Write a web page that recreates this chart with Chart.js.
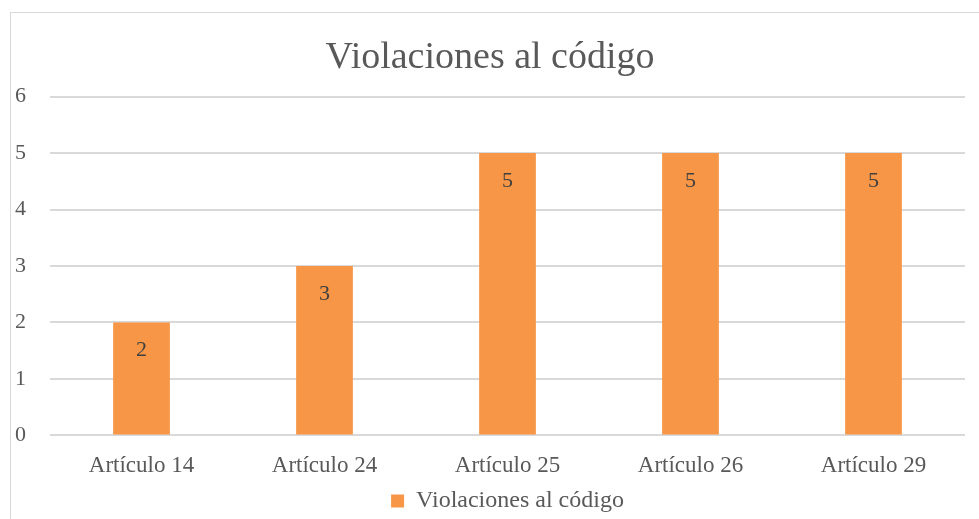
<!DOCTYPE html>
<html>
<head>
<meta charset="utf-8">
<script src="https://cdn.jsdelivr.net/npm/chart.js@4"></script>
<style>
  html, body { margin: 0; padding: 0; background: #fff; }
  #wrap { position: relative; width: 979px; height: 519px; overflow: hidden; }
  #frame { position: absolute; left: 10px; top: 12px; width: 1000px; height: 600px; border: 1px solid #d9d9d9; box-sizing: border-box; }
  #chart { position: absolute; left: 0; top: 0; }
</style>
</head>
<body>
<div id="wrap">
  <div id="frame"></div>
  <canvas id="chart" width="979" height="519"></canvas>
</div>
<script>
const categorias = ["Artículo 14", "Artículo 24", "Artículo 25", "Artículo 26", "Artículo 29"];
const violaciones = [2, 3, 5, 5, 5];
const serieNombre = "Violaciones al código";
const titulo = "Violaciones al código";

const FONT = "'Liberation Serif', 'DejaVu Serif', serif";

// etiqueta de valor dentro de la barra, cerca del tope
const etiquetasValor = {
  id: "etiquetasValor",
  afterDatasetsDraw(chart) {
    const ctx = chart.ctx;
    ctx.save();
    ctx.font = "22px " + FONT;
    ctx.fillStyle = "#404040";
    ctx.textAlign = "center";
    ctx.textBaseline = "middle";
    chart.getDatasetMeta(0).data.forEach((bar, i) => {
      ctx.fillText(String(violaciones[i]), bar.x, bar.y + 28);
    });
    ctx.restore();
  }
};

new Chart(document.getElementById("chart").getContext("2d"), {
  type: "bar",
  data: {
    labels: categorias,
    datasets: [{
      label: serieNombre,
      data: violaciones,
      backgroundColor: "#F79646",
      categoryPercentage: 0.62,
      barPercentage: 0.5
    }]
  },
  options: {
    responsive: false,
    animation: false,
    layout: { padding: { left: 15, right: 14, top: 0, bottom: -4 } },
    scales: {
      x: {
        grid: { display: false },
        border: { display: false },
        ticks: { color: "#595959", font: { family: FONT, size: 23 }, padding: 9 },
        // sin margen extra por las etiquetas de los extremos
        afterFit(scale) { scale.paddingLeft = 0; scale.paddingRight = 0; }
      },
      y: {
        min: 0,
        max: 6,
        ticks: { stepSize: 1, color: "#595959", font: { family: FONT, size: 22 }, padding: 24 },
        grid: { color: "#d9d9d9", lineWidth: 2, drawTicks: false },
        border: { display: false },
        afterFit(scale) { scale.width = 35; }
      }
    },
    plugins: {
      title: {
        display: true,
        text: titulo,
        color: "#595959",
        font: { family: FONT, size: 38, weight: "normal" },
        padding: { top: 35, bottom: 16 }
      },
      legend: {
        position: "bottom",
        fullSize: false,
        labels: {
          color: "#595959",
          font: { family: FONT, size: 24, lineHeight: 1 },
          boxWidth: 13,
          boxHeight: 13,
          padding: 0
        }
      },
      tooltip: { enabled: false }
    }
  },
  plugins: [etiquetasValor]
});
</script>
</body>
</html>
